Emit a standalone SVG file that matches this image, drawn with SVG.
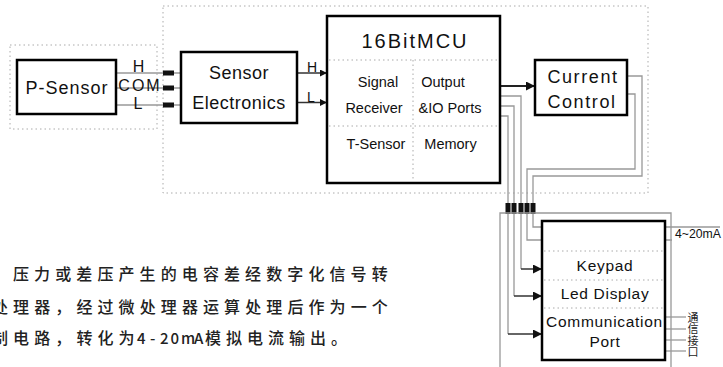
<svg xmlns="http://www.w3.org/2000/svg" width="723" height="367" viewBox="0 0 723 367">
<defs>
<style>
.box{fill:#fff;stroke:#000;stroke-width:2.5}
.dot{fill:none;stroke:#aaa;stroke-width:1;stroke-dasharray:1.5 3}
.wire{fill:none;stroke:#999;stroke-width:1.3}
.dk{fill:none;stroke:#333;stroke-width:1.5}
.pin{fill:#111}
.t{font-family:"Liberation Sans",Arial,sans-serif;fill:#111}
.c{font-family:"Noto Sans CJK SC",sans-serif;fill:#222}
</style>
<marker id="a1" viewBox="0 0 10 10" refX="10" refY="5" markerUnits="userSpaceOnUse" markerWidth="7" markerHeight="7" orient="auto"><path d="M0,0L10,5L0,10z" fill="#111"/></marker>
<marker id="a2" viewBox="0 0 10 10" refX="10" refY="5" markerUnits="userSpaceOnUse" markerWidth="9" markerHeight="9" orient="auto"><path d="M0,0L10,5L0,10z" fill="#111"/></marker>
</defs>
<rect width="723" height="367" fill="#fff"/>

<g id="frames">
<rect class="dot" x="163" y="6" width="485" height="187"/>
<rect class="dot" x="10" y="45" width="147" height="84"/>
</g>

<g id="connectors">
<line class="wire" x1="116" y1="73" x2="181" y2="73"/>
<line class="wire" x1="116" y1="88" x2="181" y2="88"/>
<line class="wire" x1="116" y1="105" x2="181" y2="105"/>
<rect class="pin" x="163" y="70.5" width="11" height="5"/>
<rect class="pin" x="163" y="85.5" width="11" height="5"/>
<rect class="pin" x="163" y="102.5" width="11" height="5"/>
<line class="dk" x1="297" y1="73" x2="327" y2="73" marker-end="url(#a1)"/>
<line class="dk" x1="297" y1="102.5" x2="327" y2="102.5" marker-end="url(#a1)"/>
<line x1="500" y1="86" x2="535" y2="86" stroke="#222" stroke-width="2" marker-end="url(#a2)"/>
<path class="wire" d="M500,96H521V269"/>
<path class="wire" d="M500,106H514V296"/>
<path class="wire" d="M500,116H508V334"/>
<path class="wire" d="M627,76H642V176H533V227H720"/>
<path class="wire" d="M627,94H635V169H527V240H672"/>
<line class="dk" x1="521" y1="269" x2="542" y2="269" marker-end="url(#a2)"/>
<line class="dk" x1="514" y1="296" x2="542" y2="296" marker-end="url(#a2)"/>
<line class="dk" x1="508" y1="334" x2="542" y2="334" marker-end="url(#a2)"/>
<rect class="pin" x="505.5" y="203" width="5" height="11"/>
<rect class="pin" x="511.5" y="203" width="5" height="11"/>
<rect class="pin" x="518.5" y="203" width="5" height="11"/>
<rect class="pin" x="524.5" y="203" width="5" height="11"/>
<rect class="pin" x="530.5" y="203" width="5" height="11"/>
<path class="wire" d="M500,367V213H671V367"/>
<line class="wire" x1="665" y1="317" x2="686" y2="317"/>
<line class="wire" x1="665" y1="329" x2="686" y2="329"/>
<line class="wire" x1="665" y1="340" x2="686" y2="340"/>
<line class="wire" x1="665" y1="351" x2="686" y2="351"/>
<text class="t" x="138.5" y="72" font-size="16" text-anchor="middle">H</text>
<text class="t" x="140" y="91" font-size="16" letter-spacing="2" text-anchor="middle">COM</text>
<text class="t" x="138" y="109" font-size="16" text-anchor="middle">L</text>
<text class="t" x="307" y="72" font-size="14">H</text>
<text class="t" x="307" y="102" font-size="14">L</text>
<text class="t" x="675" y="238" font-size="12.5" textLength="46" lengthAdjust="spacingAndGlyphs">4~20mA</text>
<text class="c" x="693" y="312" font-size="11" letter-spacing="0.5" writing-mode="vertical-rl">通信接口</text>
</g>

<g id="p-sensor">
<rect class="box" x="17" y="60" width="99" height="54" stroke-width="2"/>
<text class="t" x="67" y="94" font-size="18" letter-spacing="1" text-anchor="middle">P-Sensor</text>
</g>

<g id="sensor-electronics">
<rect class="box" x="181" y="52" width="116" height="71" stroke-width="2"/>
<text class="t" x="239" y="79" font-size="18" letter-spacing="0.5" text-anchor="middle">Sensor</text>
<text class="t" x="239" y="109" font-size="18" letter-spacing="0.5" text-anchor="middle">Electronics</text>
</g>

<g id="mcu">
<rect class="box" x="327" y="16" width="173" height="167"/>
<line class="dot" x1="329" y1="60" x2="498" y2="60"/>
<line class="dot" x1="329" y1="126" x2="498" y2="126"/>
<line class="dot" x1="413" y1="60" x2="413" y2="181"/>
<text class="t" x="415" y="48" font-size="20" letter-spacing="2" text-anchor="middle">16BitMCU</text>
<g font-size="14.5" text-anchor="middle">
<text class="t" x="378" y="87">Signal</text>
<text class="t" x="374" y="113">Receiver</text>
<text class="t" x="443" y="87">Output</text>
<text class="t" x="450" y="113">&amp;IO Ports</text>
<text class="t" x="376" y="149">T-Sensor</text>
<text class="t" x="450.5" y="149">Memory</text>
</g>
</g>

<g id="current-control">
<rect class="box" x="535" y="60" width="92" height="55"/>
<text class="t" x="583" y="83" font-size="18" letter-spacing="1.6" text-anchor="middle">Current</text>
<text class="t" x="582" y="108" font-size="18" letter-spacing="1.6" text-anchor="middle">Control</text>
</g>

<g id="display-unit">
<rect class="box" x="542" y="221" width="123" height="139"/>
<line class="dot" x1="544" y1="251" x2="663" y2="251"/>
<line class="dot" x1="544" y1="280" x2="663" y2="280"/>
<line class="dot" x1="544" y1="308" x2="663" y2="308"/>
<g font-size="15.5" letter-spacing="0.7" text-anchor="middle">
<text class="t" x="605" y="271">Keypad</text>
<text class="t" x="605" y="299">Led Display</text>
<text class="t" x="604.5" y="327">Communication</text>
<text class="t" x="605" y="347">Port</text>
</g>
</g>

<g id="description" class="c" font-size="16" font-weight="500">
<text x="13" y="280" letter-spacing="5.1">压力或差压产生的电容差经数字化信号转</text>
<text x="-8" y="313" letter-spacing="5.1">处理器，经过微处理器运算处理后作为一个</text>
<text y="344"><tspan x="-8 13.1 34.2 55.3 76.4 97.5 118.6">制电路，转化为</tspan><tspan x="137 150 160 170.5 181 194" font-size="15">4-20mA</tspan><tspan x="205 226 247 268 289 310 331">模拟电流输出。</tspan></text>
</g>
</svg>
